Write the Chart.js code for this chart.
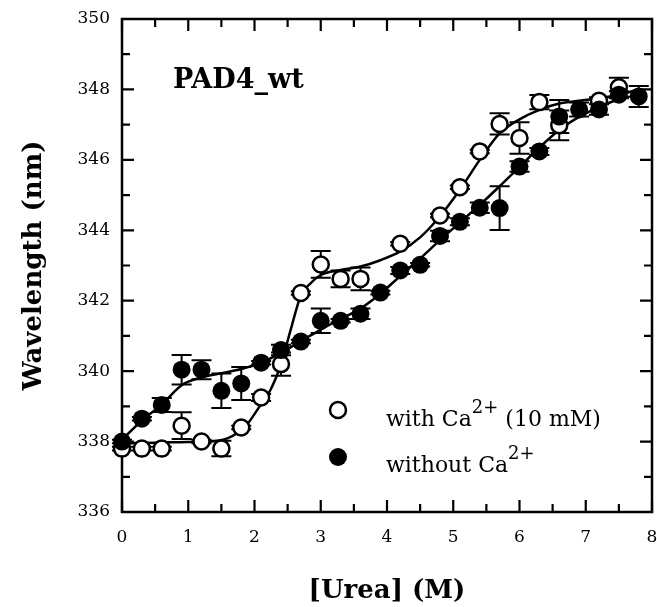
<!DOCTYPE html>
<html>
<head>
<meta charset="utf-8">
<script src="https://cdn.jsdelivr.net/npm/chart.js@4.4.0/dist/chart.umd.min.js"></script>
<style>
    html, body { margin: 0; padding: 0; background: #fff; }
</style>
</head>
<body>
<canvas id="grafico" width="657" height="607"></canvas>
<script>
// datos
const urea = [0, 0.3, 0.6, 0.9, 1.2, 1.5, 1.8, 2.1, 2.4, 2.7, 3.0, 3.3, 3.6, 3.9, 4.2, 4.5, 4.8, 5.1, 5.4, 5.7, 6.0, 6.3, 6.6, 6.9, 7.2, 7.5, 7.8];
const withCa = [337.8, 337.8, 337.8, 338.45, 338.0, 337.8, 338.4, 339.25, 340.2, 342.22, 343.03, 342.62, 342.62, null, 343.62, null, 344.42, 345.22, 346.24, 347.02, 346.62, 347.64, 346.98, null, 347.68, 348.06, null];
const withCaErr = [0.05, 0.05, 0.05, 0.38, 0.05, 0.22, 0.05, 0.1, 0.33, 0.05, 0.38, 0.24, 0.32, 0, 0.05, 0, 0.05, 0.05, 0.05, 0.3, 0.45, 0.2, 0.42, 0, 0.1, 0.27, 0];
const withoutCa = [338.0, 338.65, 339.04, 340.04, 340.04, 339.44, 339.65, 340.24, 340.6, 340.84, 341.43, 341.43, 341.63, 342.23, 342.86, 343.02, 343.84, 344.24, 344.64, 344.63, 345.81, 346.24, 347.23, 347.43, 347.43, 347.85, 347.8];
const withoutCaErr = [0.05, 0.05, 0.2, 0.42, 0.27, 0.49, 0.47, 0.05, 0.15, 0.05, 0.35, 0.05, 0.15, 0.05, 0.1, 0.05, 0.15, 0.1, 0.15, 0.62, 0.15, 0.1, 0.47, 0.2, 0.15, 0.1, 0.3];

// curvas de ajuste
const fitWithCaX = [0, 0.5, 1.0, 1.3, 1.6, 1.85, 2.06, 2.25, 2.4, 2.55, 2.7, 2.85, 3.0, 3.3, 3.6, 3.9, 4.2, 4.5, 4.8, 5.1, 5.4, 5.7, 6.0, 6.3, 6.6, 6.9, 7.2, 7.5, 7.8];
const fitWithCaY = [337.95, 337.97, 337.99, 338.0, 338.1, 338.4, 338.95, 339.5, 340.2, 341.2, 342.15, 342.5, 342.73, 342.87, 342.97, 343.15, 343.4, 343.8, 344.4, 345.15, 346.0, 346.75, 347.15, 347.42, 347.6, 347.68, 347.75, 347.85, 348.0];
const fitWithoutCaX = [0, 0.3, 0.6, 0.9, 1.2, 1.5, 1.8, 2.1, 2.4, 2.7, 3.0, 3.3, 3.6, 3.9, 4.2, 4.5, 4.8, 5.1, 5.4, 5.7, 6.0, 6.3, 6.6, 6.9, 7.2, 7.5, 7.8];
const fitWithoutCaY = [338.05, 338.6, 339.05, 339.6, 339.82, 339.94, 340.06, 340.24, 340.52, 340.85, 341.18, 341.48, 341.78, 342.2, 342.7, 343.2, 343.72, 344.22, 344.72, 345.25, 345.8, 346.35, 346.85, 347.22, 347.5, 347.72, 347.85];

const xTicks = [0, 1, 2, 3, 4, 5, 6, 7, 8];
const yTicks = [336, 338, 340, 342, 344, 346, 348, 350];

const FUENTE = 'DejaVu Serif';

function puntos(xs, ys) {
    const out = [];
    xs.forEach((x, i) => { if (ys[i] !== null) out.push({ x: x, y: ys[i] }); });
    return out;
}

// marco, ticks hacia dentro y barras de error
const marcoPlugin = {
    id: 'marco',
    beforeDatasetsDraw(chart) {
        const { ctx, chartArea: a, scales: { x, y } } = chart;
        ctx.save();
        ctx.strokeStyle = '#000';
        ctx.lineWidth = 2.5;
        ctx.strokeRect(a.left, a.top, a.right - a.left, a.bottom - a.top);

        ctx.lineWidth = 2.2;
        ctx.beginPath();
        xTicks.forEach((v, i) => {
            const px = x.getPixelForValue(v);
            ctx.moveTo(px, a.bottom); ctx.lineTo(px, a.bottom - 12);
            ctx.moveTo(px, a.top); ctx.lineTo(px, a.top + 12);
            if (i < xTicks.length - 1) {
                const pm = x.getPixelForValue((v + xTicks[i + 1]) / 2);
                ctx.moveTo(pm, a.bottom); ctx.lineTo(pm, a.bottom - 8);
                ctx.moveTo(pm, a.top); ctx.lineTo(pm, a.top + 8);
            }
        });
        yTicks.forEach((v, i) => {
            const py = y.getPixelForValue(v);
            ctx.moveTo(a.left, py); ctx.lineTo(a.left + 12, py);
            ctx.moveTo(a.right, py); ctx.lineTo(a.right - 12, py);
            if (i < yTicks.length - 1) {
                const pm = y.getPixelForValue((v + yTicks[i + 1]) / 2);
                ctx.moveTo(a.left, pm); ctx.lineTo(a.left + 8, pm);
                ctx.moveTo(a.right, pm); ctx.lineTo(a.right - 8, pm);
            }
        });
        ctx.stroke();

        // barras de error
        ctx.lineWidth = 2;
        ctx.beginPath();
        [[withCa, withCaErr], [withoutCa, withoutCaErr]].forEach(([vals, errs]) => {
            urea.forEach((u, i) => {
                if (vals[i] === null || !errs[i]) return;
                const px = x.getPixelForValue(u);
                const y1 = y.getPixelForValue(vals[i] + errs[i]);
                const y2 = y.getPixelForValue(vals[i] - errs[i]);
                ctx.moveTo(px, y1); ctx.lineTo(px, y2);
                ctx.moveTo(px - 10, y1); ctx.lineTo(px + 10, y1);
                ctx.moveTo(px - 10, y2); ctx.lineTo(px + 10, y2);
            });
        });
        ctx.stroke();
        ctx.restore();
    },
    afterDraw(chart) {
        const ctx = chart.ctx;
        ctx.save();
        ctx.fillStyle = '#000';
        ctx.textBaseline = 'alphabetic';
        ctx.font = 'bold 27px "' + FUENTE + '"';
        ctx.fillText('PAD4_wt', 173, 88);

        // leyenda
        ctx.lineWidth = 2.5;
        ctx.strokeStyle = '#000';
        ctx.beginPath();
        ctx.arc(338, 410, 8, 0, Math.PI * 2);
        ctx.fillStyle = '#fff';
        ctx.fill();
        ctx.stroke();
        ctx.beginPath();
        ctx.arc(338, 457, 9, 0, Math.PI * 2);
        ctx.fillStyle = '#000';
        ctx.fill();

        function conSuper(x0, yb, a, sup, b) {
            ctx.font = '22px "' + FUENTE + '"';
            ctx.fillText(a, x0, yb);
            let xx = x0 + ctx.measureText(a).width;
            ctx.font = '18px "' + FUENTE + '"';
            ctx.fillText(sup, xx, yb - 13);
            xx += ctx.measureText(sup).width;
            if (b) {
                ctx.font = '22px "' + FUENTE + '"';
                ctx.fillText(b, xx, yb);
            }
        }
        conSuper(386, 426, 'with Ca', '2+', ' (10 mM)');
        conSuper(386, 472, 'without Ca', '2+', '');
        ctx.restore();
    }
};

const ctx = document.getElementById('grafico').getContext('2d');
new Chart(ctx, {
    type: 'scatter',
    data: {
        datasets: [{
            label: 'without Ca2+',
            data: puntos(urea, withoutCa),
            pointRadius: 9,
            pointBackgroundColor: '#000',
            pointBorderColor: '#000',
            pointBorderWidth: 0,
            showLine: false,
            clip: false,
            order: 0
        }, {
            label: 'with Ca2+ (10 mM)',
            data: puntos(urea, withCa),
            pointRadius: 8,
            pointBackgroundColor: '#fff',
            pointBorderColor: '#000',
            pointBorderWidth: 2.5,
            showLine: false,
            clip: false,
            order: 1
        }, {
            label: 'fit with',
            data: puntos(fitWithCaX, fitWithCaY),
            showLine: true,
            borderColor: '#000',
            borderWidth: 2.5,
            pointRadius: 0,
            cubicInterpolationMode: 'monotone',
            order: 2
        }, {
            label: 'fit without',
            data: puntos(fitWithoutCaX, fitWithoutCaY),
            showLine: true,
            borderColor: '#000',
            borderWidth: 2.5,
            pointRadius: 0,
            cubicInterpolationMode: 'monotone',
            order: 3
        }]
    },
    options: {
        responsive: false,
        animation: false,
        events: [],
        layout: { autoPadding: false, padding: { top: 19, right: 5, left: 0, bottom: 0 } },
        plugins: {
            legend: { display: false },
            tooltip: { enabled: false }
        },
        scales: {
            x: {
                type: 'linear',
                min: 0,
                max: 8,
                afterBuildTicks: s => { s.ticks = xTicks.map(v => ({ value: v })); },
                afterFit: s => { s.height = 95; s.paddingLeft = 0; s.paddingRight = 0; },
                ticks: { color: '#000', padding: 15, font: { family: FUENTE, size: 17 } },
                grid: { display: false, drawTicks: false },
                border: { display: false },
                title: {
                    display: true,
                    text: '[Urea] (M)',
                    color: '#000',
                    font: { family: FUENTE, size: 26, weight: 'bold' },
                    padding: { top: 0, bottom: 0 }
                }
            },
            y: {
                type: 'linear',
                min: 336,
                max: 350,
                afterBuildTicks: s => { s.ticks = yTicks.map(v => ({ value: v })); },
                afterFit: s => { s.width = 122; s.paddingTop = 0; s.paddingBottom = 0; },
                ticks: { color: '#000', padding: 12, font: { family: FUENTE, size: 17 } },
                grid: { display: false, drawTicks: false },
                border: { display: false },
                title: {
                    display: true,
                    text: 'Wavelength (nm)',
                    color: '#000',
                    font: { family: FUENTE, size: 26, weight: 'bold' },
                    padding: { top: 19, bottom: 0 }
                }
            }
        }
    },
    plugins: [marcoPlugin]
});
</script>
</body>
</html>
